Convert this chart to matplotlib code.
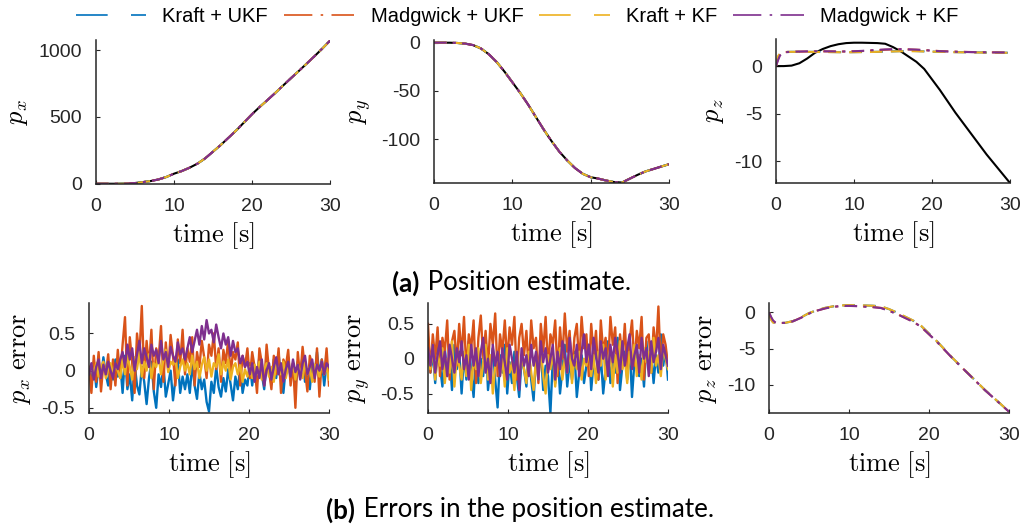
import matplotlib
matplotlib.use("Agg")
import matplotlib.pyplot as plt
from matplotlib.lines import Line2D
import numpy as np

plt.rcParams["mathtext.fontset"] = "cm"
plt.rcParams["font.family"] = ["Liberation Sans", "DejaVu Sans"]

# --- data -------------------------------------------------------------
names = ["Kraft + UKF", "Madgwick + UKF", "Kraft + KF", "Madgwick + KF"]
colors = ["#0072BD", "#D95319", "#EDB120", "#7E2F8E"]
styles = ["--", "-.", "--", "-."]

# ground truth position, one sample per second
t_pos = np.arange(0, 31)
px_true = [0, 0, 0, 0, 1, 5, 12, 20, 32, 50, 75, 95, 120, 150, 190, 240, 290,
           345, 400, 460, 520, 575, 627, 680, 735, 790, 843, 898, 953, 1010, 1070]
py_true = [0, 0, 0, -0.3, -1, -2.5, -6, -12, -20, -30, -41, -52, -64, -77, -90,
           -102, -113, -122, -130, -136, -139.5, -141, -143, -144.5, -145, -141,
           -137, -133.5, -131, -128.5, -126]

# altitude: truth and the four estimates
t_z = [0, 0.25, 0.5, 0.75] + list(range(1, 31))
pz_true = [0, 0, 0, 0, 0, 0.05, 0.3, 0.8, 1.4, 1.8, 2.1, 2.3, 2.42, 2.46, 2.46,
           2.44, 2.42, 2.35, 2.0, 1.55, 1.0, 0.45, -0.3, -1.4, -2.5, -3.7, -4.9,
           -6.0, -7.1, -8.2, -9.3, -10.3, -11.3, -12.3]
pz_kraft_ukf = [0, 0.9, 1.35, 1.45, 1.48, 1.5, 1.5, 1.49, 1.5, 1.5, 1.48, 1.47,
                1.46, 1.47, 1.48, 1.49, 1.5, 1.52, 1.55, 1.58, 1.6, 1.58, 1.55,
                1.52, 1.5, 1.48, 1.47, 1.46, 1.45, 1.44, 1.43, 1.42, 1.41, 1.4]
pz_madg_ukf = [0, 0.7, 1.2, 1.4, 1.47, 1.5, 1.52, 1.53, 1.55, 1.55, 1.54, 1.53,
               1.53, 1.55, 1.58, 1.62, 1.68, 1.72, 1.75, 1.76, 1.75, 1.72, 1.68,
               1.63, 1.58, 1.55, 1.52, 1.5, 1.48, 1.46, 1.45, 1.44, 1.43, 1.42]
pz_kraft_kf = [0, 1.0, 1.4, 1.47, 1.49, 1.5, 1.5, 1.5, 1.49, 1.48, 1.47, 1.46,
               1.45, 1.46, 1.47, 1.48, 1.5, 1.52, 1.54, 1.56, 1.57, 1.56, 1.54,
               1.52, 1.5, 1.48, 1.46, 1.45, 1.44, 1.43, 1.42, 1.41, 1.4, 1.4]
pz_madg_kf = [0, 0.6, 1.1, 1.35, 1.45, 1.5, 1.53, 1.55, 1.56, 1.56, 1.55, 1.54,
              1.54, 1.56, 1.6, 1.65, 1.7, 1.75, 1.78, 1.78, 1.76, 1.73, 1.68,
              1.62, 1.57, 1.54, 1.51, 1.49, 1.47, 1.46, 1.45, 1.44, 1.43, 1.42]

# position errors (~0.3 s spacing)
ex_kraft_ukf = [0.0, -0.15, 0.12, -0.22, 0.05, -0.1, 0.18, -0.05, -0.2, 0.08, -0.12, 0.15, -0.08, 0.1,
                -0.3, 0.2, -0.25, -0.05, -0.4, 0.1, -0.2, -0.32, 0.05, -0.15, -0.45, -0.1, 0.12, -0.28,
                -0.5, -0.05, -0.22, 0.08, -0.35, -0.18, 0.0, -0.4, -0.12, 0.15, -0.3, -0.08, -0.25,
                -0.05, -0.3, 0.1, -0.2, -0.38, -0.02, -0.25, -0.12, -0.42, -0.55, -0.15, -0.3, 0.05,
                -0.22, -0.35, -0.1, -0.28, 0.02, -0.18, -0.4, -0.08, -0.25, 0.05, -0.3, -0.12, -0.2,
                0.1, -0.2, 0.05, -0.15, 0.2, -0.05, -0.25, 0.12, 0.0, -0.18, 0.15, -0.1, 0.22, -0.08,
                -0.3, 0.05, 0.18, -0.12, 0.08, -0.22, 0.12, -0.05, 0.2, -0.15, 0.02, -0.25, 0.1, -0.1,
                0.25, -0.05, 0.15, -0.2, 0.1, 0.05]
ex_madg_ukf = [0.05, -0.3, 0.2, -0.15, 0.25, -0.28, 0.1, -0.05, 0.22, -0.25, 0.15, -0.2, 0.28, -0.1,
               0.35, 0.72, -0.2, 0.45, 0.1, -0.3, 0.5, 0.2, 0.87, -0.1, 0.4, 0.05, 0.55, -0.25, 0.3,
               0.15, 0.6, -0.15, 0.38, 0.0, 0.48, 0.2, -0.2, 0.42, 0.1, 0.55, -0.05,
               0.3, 0.12, 0.45, -0.2, 0.25, 0.05, 0.4, 0.18, -0.1, 0.35, 0.2, 0.5, 0.02, 0.3, -0.15,
               0.28, 0.1, 0.42, -0.05, 0.25, 0.15, 0.38, -0.2, 0.2, 0.05, 0.3,
               -0.1, 0.25, 0.05, -0.3, 0.3, 0.1, -0.2, 0.35, 0.0, -0.25, 0.2, -0.05, 0.3, -0.3, 0.15,
               0.05, 0.28, -0.2, 0.1, -0.5, 0.25, -0.1, 0.32, 0.0, -0.28, 0.2, 0.08, -0.15, 0.3,
               -0.35, 0.15, -0.05, 0.3, -0.2]
ex_kraft_kf = [0.0, 0.08, -0.05, 0.1, -0.08, 0.05, 0.12, -0.1, 0.02, 0.1, -0.06, 0.08, 0.0, -0.1,
               0.15, -0.05, 0.2, 0.05, -0.12, 0.18, 0.02, 0.25, -0.08, 0.12, 0.0, 0.22, -0.1, 0.1,
               0.05, 0.2, -0.05, 0.15, 0.28, -0.02, 0.12, 0.08, 0.18, -0.1, 0.05, 0.15, 0.0,
               0.1, -0.05, 0.2, 0.02, 0.12, -0.1, 0.08, 0.18, 0.0, 0.15, -0.08, 0.1, 0.05, 0.22,
               -0.05, 0.12, 0.0, 0.15, -0.12, 0.05, 0.1, -0.05, 0.08, -0.15, 0.02, -0.08,
               0.05, -0.1, 0.08, -0.05, 0.12, -0.12, 0.02, 0.1, -0.08, 0.05, -0.15, 0.1, 0.0, -0.05,
               0.12, -0.1, 0.05, -0.02, 0.1, -0.12, 0.08, 0.0, -0.1, 0.12, -0.05, 0.05, -0.15, 0.08,
               0.02, -0.08, 0.1, -0.05, 0.05, -0.12]
ex_madg_kf = [-0.05, 0.1, -0.12, 0.05, 0.15, -0.1, 0.08, -0.05, 0.12, 0.0, -0.1, 0.1, 0.02, 0.15,
              0.25, 0.05, 0.35, 0.15, 0.3, 0.0, 0.22, 0.4, 0.1, 0.3, 0.18, 0.05, 0.35, 0.2, 0.28,
              0.1, 0.4, 0.15, 0.25, 0.05, 0.32, 0.2, 0.12, 0.38, 0.22, 0.3, 0.15,
              0.3, 0.45, 0.25, 0.4, 0.55, 0.35, 0.6, 0.42, 0.68, 0.5, 0.55, 0.38, 0.62, 0.45, 0.3,
              0.5, 0.35, 0.45, 0.2, 0.4, 0.25, 0.3, 0.1, 0.2, 0.05, 0.12,
              -0.05, 0.1, -0.15, 0.05, -0.1, 0.15, -0.2, 0.0, 0.1, -0.12, 0.05, 0.18, -0.05, 0.1,
              -0.15, 0.02, 0.12, -0.08, 0.15, -0.02, 0.08, -0.12, 0.1, 0.2, -0.05, 0.05, 0.15, -0.1,
              0.08, 0.0, 0.12, -0.05, 0.1, 0.05]

ey_kraft_ukf = [0.3, -0.2, 0.1, -0.35, 0.2, -0.1, -0.4, 0.15, -0.25, 0.05, -0.45, 0.2, -0.15, 0.1,
                -0.5, 0.05, -0.3, 0.25, -0.2, -0.55, 0.1, -0.35, 0.0, -0.25, 0.3, -0.45, -0.1, 0.15,
                -0.3, -0.7, 0.05, -0.2, 0.2, -0.5, -0.05, -0.35, 0.1, -0.25, -0.55, 0.0, -0.15,
                -0.4, 0.1, -0.3, -0.6, 0.05, -0.2, 0.15, -0.45, -0.1, -0.25, -0.78, 0.0, -0.35, 0.1,
                -0.5, -0.15, 0.2, -0.4, -0.05, -0.3, 0.1, -0.55, -0.2, 0.05, -0.35, -0.1,
                0.2, -0.45, -0.05, 0.15, -0.3, 0.05, -0.5, -0.15, 0.25, -0.35, 0.0, -0.2, 0.3, -0.45,
                -0.1, 0.1, -0.3, 0.2, -0.55, -0.05, 0.15, -0.25, 0.0, -0.4, 0.25, -0.15, 0.1, -0.35,
                0.05, -0.2, 0.35, -0.1, 0.15, -0.3]
ey_madg_ukf = [0.5, -0.2, 0.35, 0.0, 0.45, -0.25, 0.3, 0.1, 0.55, -0.3, 0.25, 0.4, -0.1, 0.5,
               0.05, 0.6, -0.2, 0.35, 0.15, 0.55, -0.35, 0.3, 0.62, 0.0, 0.4, -0.15, 0.5, 0.2, 0.65,
               -0.25, 0.35, 0.1, 0.55, -0.05, 0.45, 0.2, 0.6, -0.3, 0.3, 0.5, 0.05,
               0.4, -0.2, 0.55, 0.15, 0.3, -0.35, 0.5, 0.1, 0.6, -0.15, 0.35, 0.2, 0.55, -0.25, 0.45,
               0.0, 0.65, 0.1, 0.4, -0.2, 0.3, 0.5, -0.1, 0.6, 0.15, 0.35,
               -0.25, 0.5, 0.05, 0.4, -0.3, 0.55, 0.1, 0.3, -0.15, 0.6, 0.2, 0.45, -0.35, 0.35, 0.0,
               0.5, -0.2, 0.25, 0.55, -0.1, 0.4, 0.15, 0.6, -0.3, 0.3, 0.35, -0.2, 0.45, 0.1, 0.75,
               -0.15, 0.35, 0.2, -0.1]
ey_kraft_kf = [0.1, -0.15, 0.2, -0.3, 0.05, -0.1, 0.15, -0.35, 0.0, -0.2, 0.25, -0.4, 0.05, -0.1,
               -0.3, 0.1, -0.25, 0.2, -0.45, 0.0, -0.15, 0.15, -0.35, -0.05, 0.2, -0.3, 0.05, -0.5,
               -0.1, 0.1, -0.25, 0.0, -0.4, 0.15, -0.2, -0.05, -0.45, 0.1, -0.3, 0.05, -0.15,
               -0.35, 0.1, -0.2, -0.45, 0.0, -0.3, 0.15, -0.25, -0.5, 0.05, -0.15, 0.1, -0.4, -0.05,
               0.15, -0.3, 0.0, -0.2, 0.2, -0.35, 0.05, -0.15, 0.1, -0.3, 0.0, -0.1,
               0.15, -0.25, 0.05, -0.35, 0.1, -0.1, 0.2, -0.3, 0.0, 0.15, -0.4, 0.05, -0.2, 0.25,
               -0.15, 0.0, -0.35, 0.1, -0.1, 0.2, -0.25, 0.05, -0.3, 0.15, -0.05, 0.1, -0.2, 0.3,
               -0.1, 0.05, -0.25, 0.15, 0.0, -0.15]
ey_madg_kf = [0.15, -0.1, 0.2, -0.2, 0.05, 0.25, -0.15, 0.1, -0.25, 0.2, 0.0, -0.2, 0.15, -0.05,
              0.25, -0.15, 0.05, -0.3, 0.2, -0.1, 0.15, -0.25, 0.1, 0.3, -0.2, 0.0, -0.35, 0.2,
              -0.1, 0.1, -0.25, 0.15, -0.05, -0.3, 0.2, 0.0, -0.2, 0.1, -0.45, 0.15, -0.1,
              0.05, -0.25, 0.2, -0.1, 0.1, -0.3, 0.25, -0.05, 0.15, -0.2, 0.0, 0.2, -0.3, 0.1,
              -0.15, 0.25, 0.05, -0.2, 0.3, 0.0, -0.1, 0.2, -0.25, 0.1, 0.35, -0.05,
              0.2, -0.15, 0.3, 0.05, -0.2, 0.25, 0.0, 0.15, -0.25, 0.2, -0.05, 0.3, 0.1, -0.2,
              0.25, -0.1, 0.15, 0.35, -0.15, 0.05, 0.2, -0.2, 0.3, 0.0, 0.15, -0.25, 0.25, -0.05,
              0.1, 0.3, -0.15, 0.2, 0.05, -0.1]

pz_est = [pz_kraft_ukf, pz_madg_ukf, pz_kraft_kf, pz_madg_kf]
ex_all = [ex_kraft_ukf, ex_madg_ukf, ex_kraft_kf, ex_madg_kf]
ey_all = [ey_kraft_ukf, ey_madg_ukf, ey_kraft_kf, ey_madg_kf]

# matlab-ish dash patterns (points)
dash_map = {"--": (0, (6, 4)), "-.": (0, (6, 3, 1.5, 3))}
legend_dash = {"--": (0, (19, 14)), "-.": (0, (17, 5, 1.5, 5))}


def style_axis(ax, xlabel, ylabel, ylim):
    ax.set_xlim(0, 30)
    ax.set_ylim(*ylim)
    ax.set_xticks([0, 10, 20, 30])
    for s in ["top", "right"]:
        ax.spines[s].set_visible(False)
    for s in ["left", "bottom"]:
        ax.spines[s].set_color("#262626")
        ax.spines[s].set_linewidth(1.1)
    ax.tick_params(direction="in", length=3, width=0.8, colors="#262626",
                   labelsize=14)
    ax.tick_params(axis="x", pad=10)
    ax.tick_params(axis="y", pad=10)
    ax.set_xlabel(xlabel, fontsize=19, labelpad=4)
    ax.set_ylabel(ylabel, fontsize=19, labelpad=6)


W, H = 1024, 527
fig = plt.figure(figsize=(W / 100, H / 100), dpi=100)


def add_ax(l, r, t, b):
    return fig.add_axes([l / W, 1 - b / H, (r - l) / W, (b - t) / H])


ax1 = add_ax(96, 330, 40, 184)
ax2 = add_ax(434, 669, 40, 183)
ax3 = add_ax(776, 1010, 39, 183)
ax4 = add_ax(89, 329, 303, 413)
ax5 = add_ax(428, 668, 303, 413)
ax6 = add_ax(769, 1009, 303, 413)

xl = r"$\mathrm{time\ [s]}$"
lw = 1.5

# (a) positions
ax1.plot(t_pos, px_true, color="black", lw=lw)
ax2.plot(t_pos, py_true, color="black", lw=lw)
ax3.plot(t_z, pz_true, color="black", lw=lw)
for i in range(4):
    ls = dash_map[styles[i]]
    ax1.plot(t_pos, px_true, color=colors[i], ls=ls, lw=lw)
    ax2.plot(t_pos, py_true, color=colors[i], ls=ls, lw=lw)
    ax3.plot(t_z, pz_est[i], color=colors[i], ls=ls, lw=lw)

style_axis(ax1, xl, r"$p_x$", (-2, 1075))
ax1.set_yticks([0, 500, 1000])
style_axis(ax2, xl, r"$p_y$", (-145.5, 2.8))
ax2.set_yticks([-100, -50, 0])
style_axis(ax3, xl, r"$p_z$", (-12.3, 2.85))
ax3.set_yticks([-10, -5, 0])

# (b) errors
for i in range(4):
    t_ex = np.linspace(0, 30, len(ex_all[i]))
    ax4.plot(t_ex, ex_all[i], color=colors[i], lw=1.7)
    t_ey = np.linspace(0, 30, len(ey_all[i]))
    ax5.plot(t_ey, ey_all[i], color=colors[i], lw=1.7)
    ez = np.array(pz_true) - np.array(pz_est[i])
    ax6.plot(t_z, ez, color=colors[i], ls=dash_map[styles[i]], lw=lw)

style_axis(ax4, xl, r"$p_x\ \mathrm{error}$", (-0.57, 0.91))
ax4.set_yticks([-0.5, 0, 0.5])
ax4.set_yticklabels(["-0.5", "0", "0.5"])
style_axis(ax5, xl, r"$p_y\ \mathrm{error}$", (-0.78, 0.8))
ax5.set_yticks([-0.5, 0, 0.5])
ax5.set_yticklabels(["-0.5", "0", "0.5"])
style_axis(ax6, xl, r"$p_z\ \mathrm{error}$", (-13.9, 1.3))
ax6.set_yticks([-10, -5, 0])

for ax in [ax1, ax2, ax3, ax6]:
    ax.set_yticklabels([str(int(v)) for v in ax.get_yticks()])

# legend across the top
handles = [Line2D([], [], color=colors[i], lw=1.2, ls=legend_dash[styles[i]])
           for i in range(4)]
fig.legend(handles, names, loc="center", bbox_to_anchor=(517 / W, 1 - 17 / H),
           ncol=4, frameon=False, handlelength=3.5,
           handletextpad=0.8, columnspacing=0.8,
           prop={"family": ["Liberation Sans Narrow", "Liberation Sans"], "size": 14.5})

# captions
cap_font = ["Lato", "DejaVu Sans"]
cap_size = 18.7
ta = fig.text(392 / W, 1 - 283 / H, "(a)", fontsize=cap_size, fontweight="bold",
              family=cap_font, va="center")
tb = fig.text(326 / W, 1 - 510 / H, "(b)", fontsize=cap_size, fontweight="bold",
              family=cap_font, va="center")

fig.canvas.draw()
r = fig.canvas.get_renderer()
fig.text((ta.get_window_extent(r).x1 + 2) / W, 1 - 283 / H,
         " Position estimate.", fontsize=cap_size, family=cap_font, va="center")
fig.text((tb.get_window_extent(r).x1 + 2) / W, 1 - 510 / H,
         " Errors in the position estimate.", fontsize=cap_size, family=cap_font,
         va="center")

fig.savefig("out.png", dpi=100)
